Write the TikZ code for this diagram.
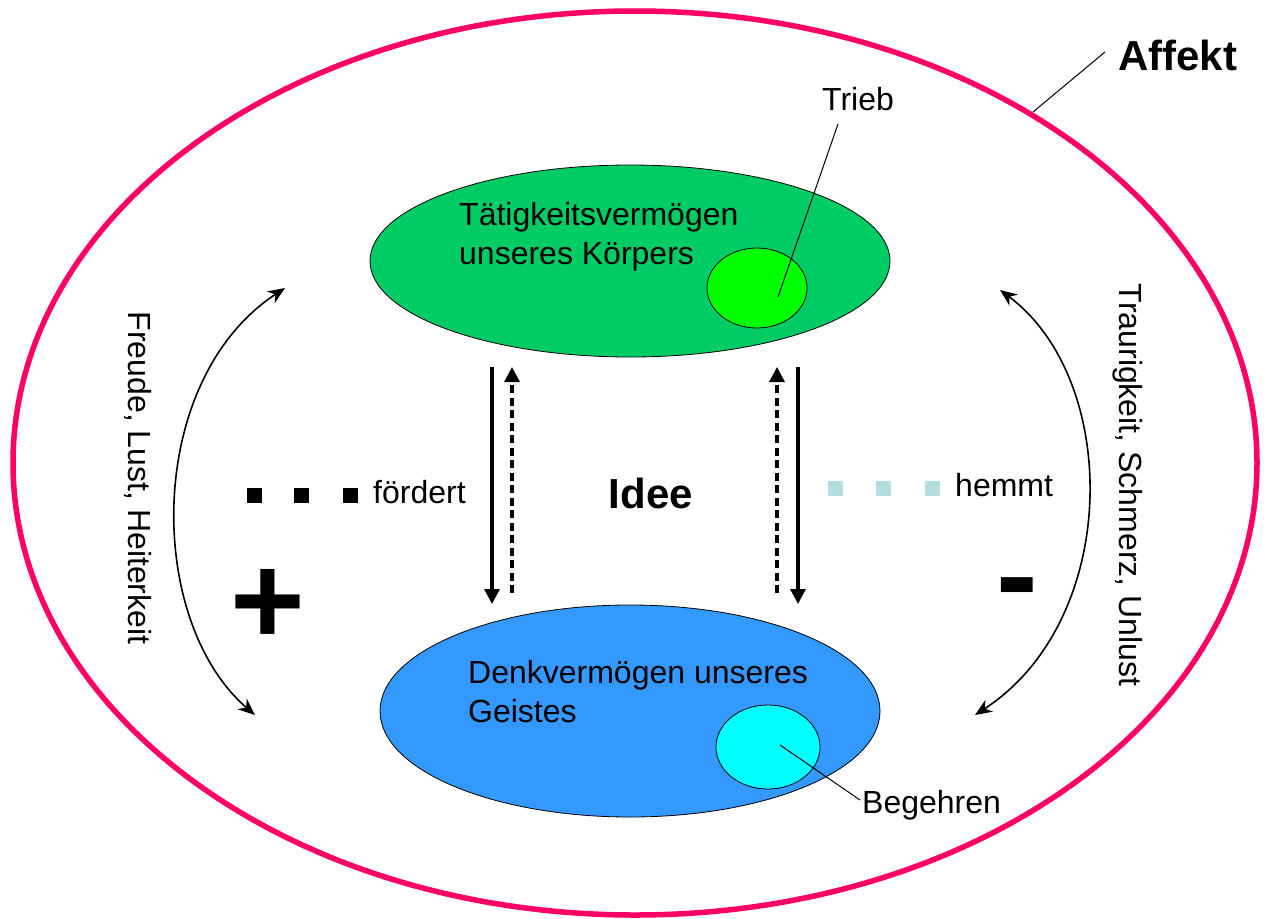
\documentclass[tikz,border=0pt]{standalone}
\usepackage{fontspec}
\setmainfont{Liberation Sans}
\usetikzlibrary{arrows.meta,shapes.geometric}
\definecolor{affekt}{RGB}{255,0,102}
\definecolor{bodyc}{RGB}{0,204,102}
\definecolor{triebc}{RGB}{0,255,0}
\definecolor{mindc}{RGB}{51,153,255}
\definecolor{begc}{RGB}{0,255,255}
\definecolor{hemmc}{RGB}{180,222,222}
\tikzset{
  txt/.style={inner sep=0pt, font=\fontsize{32}{39}\selectfont},
  bigtxt/.style={inner sep=0pt, font=\fontsize{42}{42}\selectfont\bfseries},
  blob/.style={ellipse, draw=black, line width=0.8pt, inner sep=0pt},
  leader/.style={draw=black, line width=1pt},
  vsolid/.style={line width=3.2pt, -{Triangle[length=15pt,width=15pt]}},
  vdash/.style={line width=3.2pt, dash pattern=on 8pt off 4.5pt, -{Triangle[length=15pt,width=15pt]}},
  curvarr/.style={line width=1.6pt, {Stealth[length=17pt,width=14pt]}-{Stealth[length=17pt,width=14pt]}},
  sq/.style={minimum size=15pt, inner sep=0pt, draw=none}
}
\begin{document}
\begin{tikzpicture}[x=1pt,y=-1pt]
\useasboundingbox (0,0) rectangle (1268,918);
% outer Affekt ellipse
\node[ellipse, draw=affekt, line width=5.5pt, minimum width=1244pt, minimum height=904pt, inner sep=0pt] (outer) at (635,463) {};
\node[bigtxt, anchor=base west] (affekt) at (1118,70) {Affekt};
\coordinate (affektend) at (1033,112);
\draw[leader] (1105,52) -- (affektend);

% body ellipse
\node[blob, fill=bodyc, minimum width=520pt, minimum height=192pt] (body) at (630,261) {};
\node[blob, fill=triebc, minimum width=100pt, minimum height=80pt] (trieb) at (757,288) {};
\node[txt, anchor=north west, align=left] (bodytxt) at (459,202) {Tätigkeitsvermögen\\unseres Körpers};
\node[txt, anchor=base west] (triebtxt) at (822,110) {Trieb};
\coordinate (triebpt) at (778,297);
\draw[leader] (838,124) -- (triebpt);

% mind ellipse
\node[blob, fill=mindc, minimum width=500pt, minimum height=212pt] (mind) at (630,711) {};
\node[blob, fill=begc, minimum width=104pt, minimum height=84pt] (beg) at (768,747) {};
\node[txt, anchor=north west, align=left] (mindtxt) at (468,660) {Denkvermögen unseres\\Geistes};
\node[txt, anchor=base west] (begtxt) at (862,813) {Begehren};
\coordinate (begpt) at (780,745);
\draw[leader] (begpt) -- (860,800);

% vertical arrows
\coordinate (a1s) at (492,367); \coordinate (a1e) at (492,604);
\coordinate (a2s) at (512,593); \coordinate (a2e) at (512,367);
\coordinate (a3s) at (777,593); \coordinate (a3e) at (777,367);
\coordinate (a4s) at (798,367); \coordinate (a4e) at (798,604);
\draw[vsolid] (a1s) -- (a1e);
\draw[vdash] (a2s) -- (a2e);
\draw[vdash] (a3s) -- (a3e);
\draw[vsolid] (a4s) -- (a4e);

% center label
\node[bigtxt, anchor=base] (idee) at (651,508) {Idee};

% legend squares
\node[sq, fill=black] (s1) at (254,495) {};
\node[sq, fill=black] (s2) at (301,495) {};
\node[sq, fill=black] (s3) at (350,495) {};
\node[txt, anchor=base west] (foerdert) at (373,503) {fördert};
\node[sq, fill=hemmc] (h1) at (835,488) {};
\node[sq, fill=hemmc] (h2) at (883,488) {};
\node[sq, fill=hemmc] (h3) at (932,488) {};
\node[txt, anchor=base west] (hemmt) at (955,496) {hemmt};

% curved arrows
\coordinate (l1) at (285,288); \coordinate (l2) at (255,715);
\draw[curvarr] (l2) .. controls (145,620) and (145,380) .. (l1);
\coordinate (r1) at (1000,290); \coordinate (r2) at (975,715);
\draw[curvarr] (r2) .. controls (1121,620) and (1121,380) .. (r1);

% side labels
\node[txt, rotate=-90] (freude) at (138,478) {Freude, Lust, Heiterkeit};
\node[txt, rotate=-90] (trauer) at (1128,485) {Traurigkeit, Schmerz, Unlust};

% plus / minus
\node[inner sep=0pt, font=\fontsize{128}{128}\selectfont\bfseries] (plus) at (268,607) {+};
\node[inner sep=0pt, font=\fontsize{125}{125}\selectfont\bfseries] (minus) at (1017,598) {-};
\end{tikzpicture}
\end{document}
